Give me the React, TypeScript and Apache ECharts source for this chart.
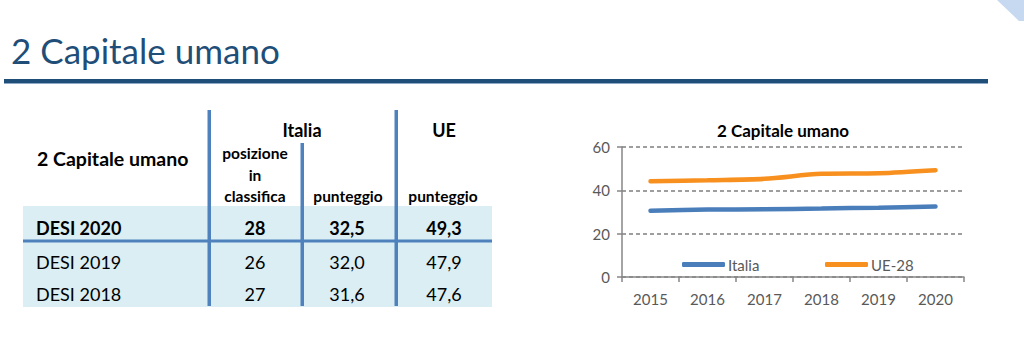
import React, { useEffect, useRef } from "react";
import * as echarts from "echarts";

const years = ["2015", "2016", "2017", "2018", "2019", "2020"];
const italia = [30.6, 31.1, 31.3, 31.6, 32.0, 32.5];
const ue28 = [44.2, 44.7, 45.3, 47.6, 47.9, 49.3];

const rowLabels = ["DESI 2020", "DESI 2019", "DESI 2018"];
const rankItalia = [28, 26, 27];
const scoreItalia = [32.5, 32.0, 31.6];
const scoreUE = [49.3, 47.9, 47.6];

const FONT = "Lato, 'Open Sans', sans-serif";
const fmt = (v: number) => v.toFixed(1).replace(".", ",");

export default function App() {
  const ref = useRef<HTMLDivElement>(null);
  useEffect(() => {
    document.body.style.margin = "0";
    const chart = echarts.init(ref.current!, null, { renderer: "svg" });
    const lineBlue = "#4F81BD";
    const txt = (text: string, x: number, y: number, size: number, bold: boolean, align = "center", color = "#000") => ({
      type: "text",
      x,
      y,
      style: { text, fontSize: size, fontWeight: bold ? "bold" : "normal", fontFamily: FONT, fill: color, align, verticalAlign: "middle" },
    });
    const rowY = [228, 262, 294];
    const tableTexts: any[] = [];
    rowLabels.forEach((r, i) => {
      const b = i === 0;
      const size = 18;
      tableTexts.push(txt(r, 36, rowY[i], size, b, "left"));
      tableTexts.push(txt(String(rankItalia[i]), 255, rowY[i], size, b));
      tableTexts.push(txt(fmt(scoreItalia[i]), 347, rowY[i], size, b));
      tableTexts.push(txt(fmt(scoreUE[i]), 444, rowY[i], size, b));
    });
    chart.setOption({
      animation: false,
      backgroundColor: "#fff",
      textStyle: { fontFamily: FONT },
      grid: { left: 622, right: 60, top: 147, bottom: 80 },
      xAxis: {
        type: "category",
        data: years,
        boundaryGap: true,
        axisLine: { lineStyle: { color: "#868686", width: 1.5 } },
        axisTick: { show: true, length: 5, lineStyle: { color: "#868686", width: 1.5 } },
        axisLabel: { color: "#595959", fontSize: 15, margin: 14, fontFamily: FONT },
      },
      yAxis: {
        type: "value",
        min: 0,
        max: 60,
        interval: 20,
        axisLine: { show: true, lineStyle: { color: "#868686", width: 1.5 } },
        axisTick: { show: true, length: 5, lineStyle: { color: "#868686", width: 1.5 } },
        axisLabel: { color: "#595959", fontSize: 15, margin: 12, fontFamily: FONT },
        splitLine: { show: true, lineStyle: { color: "#7f7f7f", width: 1.5, type: [4, 3] } },
      },
      legend: [
        {
          left: 682,
          top: 257,
          itemWidth: 43,
          itemHeight: 5,
          icon: "roundRect",
          itemGap: 0,
          data: ["Italia"],
          textStyle: { color: "#595959", fontSize: 15, fontFamily: FONT, padding: [0, 0, 0, -2] },
          padding: 0,
        },
        {
          left: 825,
          top: 257,
          itemWidth: 43,
          itemHeight: 5,
          icon: "roundRect",
          data: ["UE-28"],
          textStyle: { color: "#595959", fontSize: 15, fontFamily: FONT, padding: [0, 0, 0, -2] },
          padding: 0,
        },
      ],
      series: [
        {
          name: "Italia",
          type: "line",
          data: italia,
          smooth: 0.3,
          symbol: "none",
          color: "#4A7EBB",
          lineStyle: { width: 4.5, color: "#4A7EBB", cap: "round" },
        },
        {
          name: "UE-28",
          type: "line",
          data: ue28,
          smooth: 0.3,
          symbol: "none",
          color: "#F7901E",
          lineStyle: { width: 4.5, color: "#F7901E", cap: "round" },
        },
      ],
      graphic: [
        { type: "polygon", shape: { points: [[997, 0], [1024, 0], [1024, 21], [1019, 21]] }, style: { fill: "#C6D9F1" } },
        txt("2 Capitale umano", 11, 50, 35, false, "left", "#1F4E79"),
        { type: "rect", shape: { x: 4, y: 79, width: 984, height: 4 }, style: { fill: "#1F4E79" } },
        { type: "rect", shape: { x: 4, y: 83, width: 984, height: 1 }, style: { fill: "#8EA9C8" } },
        // table
        { type: "rect", shape: { x: 23, y: 206, width: 469, height: 101 }, style: { fill: "#DAEEF3" } },
        { type: "rect", shape: { x: 23, y: 239.5, width: 469, height: 3 }, style: { fill: lineBlue } },
        { type: "rect", shape: { x: 207.5, y: 110, width: 3.5, height: 196 }, style: { fill: lineBlue } },
        { type: "rect", shape: { x: 300.5, y: 143, width: 3.5, height: 163 }, style: { fill: lineBlue } },
        { type: "rect", shape: { x: 394.5, y: 110, width: 3.5, height: 196 }, style: { fill: lineBlue } },
        txt("Italia", 302, 130, 18, true),
        txt("UE", 444, 130, 18, true),
        txt("2 Capitale umano", 37, 158, 19.5, true, "left"),
        txt("posizione", 255, 153, 15.5, true),
        txt("in", 255, 175, 15.5, true),
        txt("classifica", 255, 196, 15.5, true),
        txt("punteggio", 348, 196, 15.5, true),
        txt("punteggio", 443, 196, 15.5, true),
        ...tableTexts,
        // chart title
        txt("2 Capitale umano", 783, 130, 17, true),
      ],
    });
    return () => chart.dispose();
  }, []);
  return <div ref={ref} style={{ width: 1024, height: 357 }} />;
}
